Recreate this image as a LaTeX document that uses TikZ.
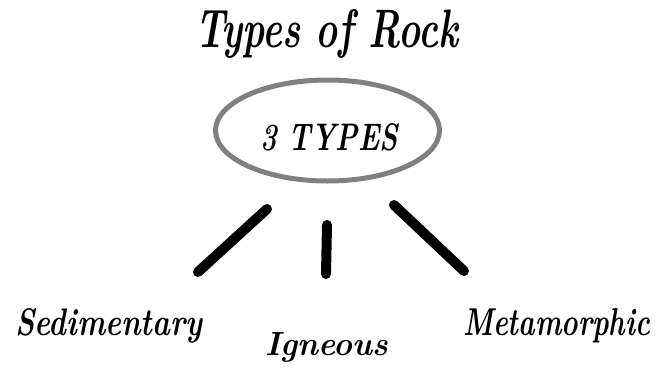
\documentclass[tikz,border=0pt]{standalone}
\usetikzlibrary{shapes.geometric}
\definecolor{ovalgray}{RGB}{128,128,128}
\tikzset{
  lbl/.style={inner sep=0pt, outer sep=0pt, anchor=base west},
  stroke/.style={line width=10pt, line cap=round, black},
  oval/.style={draw=ovalgray, line width=5pt, ellipse, inner sep=0pt,
    minimum width=224pt, minimum height=101pt}
}
\begin{document}
\begin{tikzpicture}[x=1pt, y=-1pt]
\useasboundingbox[fill=white] (0,0) rectangle (664,373);
% title
\node[lbl] (title) at (195,47) {\resizebox{263pt}{38pt}{\bfseries\itshape Types of Rock}};
% oval
\node[oval] (ring) at (327.5,130.5) {};
\node[lbl] (three) at (260,150) {\resizebox{138pt}{27pt}{\bfseries\itshape 3 TYPES}};
% labels
\node[lbl] (sed) at (15,335) {\resizebox{187pt}{27pt}{\bfseries\itshape Sedimentary}};
\node[lbl] (ign) at (265,355) {\resizebox{123pt}{23pt}{\bfseries\itshape Igneous}};
\node[lbl] (meta) at (463,335) {\resizebox{187pt}{27pt}{\bfseries\itshape Metamorphic}};
% connector ends
\coordinate (l1) at (267,209);
\coordinate (l2) at (198,272);
\coordinate (m1) at (327,225);
\coordinate (m2) at (326,274);
\coordinate (r1) at (394,205);
\coordinate (r2) at (464,271);
\draw[stroke] (l1) -- (l2);
\draw[stroke] (m1) -- (m2);
\draw[stroke] (r1) -- (r2);
\end{tikzpicture}
\end{document}
